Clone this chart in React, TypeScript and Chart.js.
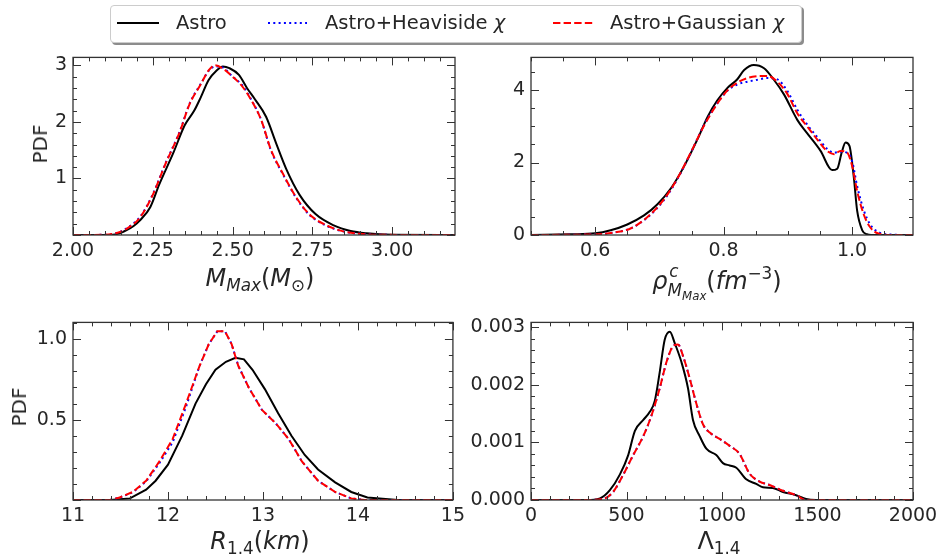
import React, { useEffect, useRef } from 'react';
import { Chart, registerables } from 'chart.js';

Chart.register(...registerables);

const FONT = "'DejaVu Sans', sans-serif";
const TEXT = '#262626';
const SPINE = '#333333';

// ---------- Panel 1: M_Max ----------
const M_X_TICKS = [2.0, 2.25, 2.5, 2.75, 3.0];
const M_X_LABELS = ['2.00', '2.25', '2.50', '2.75', '3.00'];
const M_Y_TICKS = [1, 2, 3];
const M_Y_LABELS = ['1', '2', '3'];
const M_ASTRO_X = [2.0, 2.1, 2.14, 2.168, 2.19, 2.21, 2.242, 2.27, 2.315, 2.35, 2.38, 2.40, 2.425, 2.45, 2.47, 2.49, 2.52, 2.545, 2.57, 2.605, 2.636, 2.668, 2.71, 2.76, 2.817, 2.87, 2.92, 3.0, 3.2];
const M_ASTRO_Y = [0, 0.002, 0.02, 0.086, 0.16, 0.26, 0.49, 0.89, 1.46, 1.94, 2.2, 2.43, 2.74, 2.91, 2.98, 2.95, 2.83, 2.6, 2.4, 2.09, 1.63, 1.17, 0.71, 0.37, 0.17, 0.07, 0.03, 0.005, 0];
const M_GAUSS_X = [2.0, 2.1, 2.14, 2.168, 2.21, 2.25, 2.29, 2.335, 2.365, 2.40, 2.425, 2.445, 2.47, 2.50, 2.53, 2.56, 2.59, 2.62, 2.66, 2.70, 2.74, 2.795, 2.85, 2.9, 2.97, 3.2];
const M_GAUSS_Y = [0, 0.004, 0.04, 0.11, 0.31, 0.71, 1.26, 1.83, 2.31, 2.66, 2.91, 3.0, 2.94, 2.8, 2.63, 2.37, 2.03, 1.51, 1.06, 0.66, 0.37, 0.17, 0.06, 0.02, 0.003, 0];
const M_HEAVI_X = M_GAUSS_X;
const M_HEAVI_Y = [0, 0.004, 0.04, 0.12, 0.32, 0.72, 1.27, 1.84, 2.32, 2.67, 2.9, 2.98, 2.96, 2.8, 2.65, 2.38, 2.03, 1.5, 1.05, 0.65, 0.36, 0.16, 0.06, 0.02, 0.003, 0];

// ---------- Panel 2: rho_c ----------
const RHO_X_TICKS = [0.6, 0.8, 1.0];
const RHO_X_LABELS = ['0.6', '0.8', '1.0'];
const RHO_Y_TICKS = [0, 2, 4];
const RHO_Y_LABELS = ['0', '2', '4'];
const RHO_ASTRO_X = [0.5, 0.562, 0.6, 0.624, 0.65, 0.676, 0.697, 0.718, 0.738, 0.759, 0.775, 0.79, 0.806, 0.821, 0.832, 0.847, 0.863, 0.878, 0.894, 0.915, 0.93, 0.951, 0.969, 0.977, 0.984, 0.99, 0.996, 1.003, 1.008, 1.016, 1.023, 1.03, 1.095];
const RHO_ASTRO_Y = [0, 0.02, 0.045, 0.13, 0.29, 0.54, 0.85, 1.29, 1.88, 2.63, 3.26, 3.71, 4.06, 4.29, 4.55, 4.69, 4.6, 4.29, 3.88, 3.17, 2.81, 2.32, 1.79, 1.83, 2.28, 2.55, 2.46, 1.56, 0.67, 0.13, 0.02, 0, 0];
const RHO_GAUSS_X = [0.5, 0.6, 0.63, 0.655, 0.681, 0.707, 0.728, 0.749, 0.769, 0.79, 0.806, 0.821, 0.837, 0.852, 0.868, 0.883, 0.899, 0.915, 0.93, 0.946, 0.961, 0.972, 0.982, 0.992, 1.0, 1.008, 1.018, 1.028, 1.041, 1.062, 1.095];
const RHO_GAUSS_Y = [0, 0.02, 0.07, 0.18, 0.49, 0.98, 1.56, 2.28, 3.0, 3.62, 3.99, 4.2, 4.33, 4.38, 4.39, 4.24, 3.9, 3.35, 3.0, 2.63, 2.32, 2.23, 2.32, 2.28, 1.92, 1.21, 0.58, 0.22, 0.04, 0, 0];
const RHO_HEAVI_X = RHO_GAUSS_X;
const RHO_HEAVI_Y = [0, 0.02, 0.07, 0.18, 0.48, 0.96, 1.54, 2.27, 3.02, 3.63, 3.98, 4.15, 4.23, 4.28, 4.33, 4.3, 3.98, 3.45, 3.05, 2.7, 2.38, 2.27, 2.3, 2.27, 2.05, 1.35, 0.7, 0.3, 0.08, 0.01, 0];

// ---------- Panel 3: R_1.4 ----------
const R_X_TICKS = [11, 12, 13, 14, 15];
const R_X_LABELS = ['11', '12', '13', '14', '15'];
const R_Y_TICKS = [0.5, 1.0];
const R_Y_LABELS = ['0.5', '1.0'];
const R_ASTRO_X = [11, 11.39, 11.6, 11.77, 11.87, 12.0, 12.15, 12.29, 12.4, 12.5, 12.61, 12.71, 12.8, 12.89, 13.02, 13.16, 13.3, 13.44, 13.58, 13.76, 13.93, 14.1, 14.42, 15];
const R_ASTRO_Y = [0, 0, 0.01, 0.064, 0.12, 0.22, 0.4, 0.6, 0.72, 0.81, 0.86, 0.885, 0.875, 0.81, 0.69, 0.54, 0.4, 0.28, 0.19, 0.11, 0.05, 0.016, 0, 0];
const R_GAUSS_X = [11, 11.39, 11.49, 11.63, 11.77, 11.91, 12.05, 12.19, 12.33, 12.43, 12.52, 12.6, 12.67, 12.74, 12.85, 12.99, 13.13, 13.27, 13.41, 13.58, 13.76, 13.93, 14.07, 15];
const R_GAUSS_Y = [0, 0, 0.016, 0.05, 0.12, 0.24, 0.38, 0.6, 0.83, 0.97, 1.05, 1.05, 0.97, 0.835, 0.7, 0.56, 0.48, 0.38, 0.24, 0.12, 0.05, 0.01, 0, 0];
const R_HEAVI_X = R_GAUSS_X;
const R_HEAVI_Y = [0, 0, 0.015, 0.048, 0.115, 0.23, 0.36, 0.58, 0.83, 0.97, 1.05, 1.05, 0.97, 0.835, 0.7, 0.56, 0.48, 0.38, 0.24, 0.12, 0.05, 0.01, 0, 0];

// ---------- Panel 4: Lambda_1.4 ----------
const L_X_TICKS = [0, 500, 1000, 1500, 2000];
const L_X_LABELS = ['0', '500', '1000', '1500', '2000'];
const L_Y_TICKS = [0, 0.001, 0.002, 0.003];
const L_Y_LABELS = ['0.000', '0.001', '0.002', '0.003'];
const L_ASTRO_X = [0, 291, 361, 413, 465, 509, 544, 588, 622, 648, 674, 700, 727, 753, 788, 822, 848, 883, 918, 970, 1005, 1040, 1075, 1127, 1179, 1214, 1266, 1319, 1388, 1440, 1493, 2000];
const L_ASTRO_Y = [0, 0, 0.000028, 0.00017, 0.00044, 0.00078, 0.0012, 0.00139, 0.00153, 0.00172, 0.00222, 0.00278, 0.00292, 0.00272, 0.00239, 0.00194, 0.00139, 0.00111, 0.00089, 0.00078, 0.00064, 0.0006, 0.00056, 0.00036, 0.00028, 0.00022, 0.00021, 0.00014, 0.000083, 0.000017, 0, 0];
const L_GAUSS_X = [0, 291, 378, 430, 483, 535, 588, 631, 674, 709, 744, 770, 796, 831, 866, 901, 936, 988, 1040, 1092, 1144, 1197, 1249, 1319, 1388, 1440, 2000];
const L_GAUSS_Y = [0, 0, 0.00002, 0.00014, 0.00044, 0.00078, 0.00111, 0.00147, 0.00194, 0.00239, 0.00267, 0.0027, 0.0025, 0.00211, 0.00167, 0.00131, 0.00117, 0.00106, 0.00094, 0.0008, 0.00046, 0.00032, 0.00026, 0.00016, 0.000083, 0, 0];
const L_HEAVI_X = L_GAUSS_X;
const L_HEAVI_Y = L_GAUSS_Y;

const zip = (xs: number[], ys: number[]) => xs.map((x, i) => ({ x, y: ys[i] }));

const framePlugin = {
  id: 'mplFrame',
  afterDatasetsDraw(chart: any, _args: any, opts: any) {
    const { ctx, chartArea: a } = chart;
    const xs = chart.scales.x;
    const ys = chart.scales.y;
    const seq = (min: number, max: number, step: number) => {
      const out: number[] = [];
      const n0 = Math.ceil(min / step - 1e-6);
      const n1 = Math.floor(max / step + 1e-6);
      for (let n = n0; n <= n1; n++) out.push(n * step);
      return out;
    };
    ctx.save();
    ctx.strokeStyle = SPINE;
    ctx.lineWidth = 1;
    ctx.beginPath();
    const xTick = (v: number, len: number) => {
      const p = Math.round(xs.getPixelForValue(v)) + 0.5;
      ctx.moveTo(p, a.bottom); ctx.lineTo(p, a.bottom - len);
      ctx.moveTo(p, a.top); ctx.lineTo(p, a.top + len);
    };
    const yTick = (v: number, len: number) => {
      const p = Math.round(ys.getPixelForValue(v)) + 0.5;
      ctx.moveTo(a.left, p); ctx.lineTo(a.left + len, p);
      ctx.moveTo(a.right, p); ctx.lineTo(a.right - len, p);
    };
    seq(xs.min, xs.max, opts.xMinor).forEach((v) => xTick(v, 4));
    seq(xs.min, xs.max, opts.xMajor).forEach((v) => xTick(v, 8));
    seq(ys.min, ys.max, opts.yMinor).forEach((v) => yTick(v, 4));
    seq(ys.min, ys.max, opts.yMajor).forEach((v) => yTick(v, 8));
    ctx.stroke();
    ctx.lineWidth = 1.3;
    ctx.strokeRect(a.left, a.top, a.right - a.left, a.bottom - a.top);
    ctx.restore();
  },
};

type PanelSpec = {
  left: number; top: number; w: number; h: number;
  padTop: number; padRight: number; yWidth: number; xHeight: number;
  xMin: number; xMax: number; yMin: number; yMax: number;
  xTicks: number[]; xLabels: string[]; yTicks: number[]; yLabels: string[];
  xMajor: number; xMinor: number; yMajor: number; yMinor: number;
  astro: { x: number; y: number }[];
  heavi: { x: number; y: number }[];
  gauss: { x: number; y: number }[];
  smooth: boolean;
};

const PANELS: PanelSpec[] = [
  {
    left: 0, top: 40, w: 470, h: 230, padTop: 11, padRight: 15, yWidth: 73, xHeight: 35,
    xMin: 2.0, xMax: 3.197, yMin: 0, yMax: 3.14,
    xTicks: M_X_TICKS, xLabels: M_X_LABELS, yTicks: M_Y_TICKS, yLabels: M_Y_LABELS,
    xMajor: 0.25, xMinor: 0.05, yMajor: 1, yMinor: 0.2,
    astro: zip(M_ASTRO_X, M_ASTRO_Y), heavi: zip(M_HEAVI_X, M_HEAVI_Y), gauss: zip(M_GAUSS_X, M_GAUSS_Y),
    smooth: true,
  },
  {
    left: 465, top: 40, w: 478, h: 230, padTop: 11, padRight: 30, yWidth: 66, xHeight: 35,
    xMin: 0.5, xMax: 1.095, yMin: 0, yMax: 4.9,
    xTicks: RHO_X_TICKS, xLabels: RHO_X_LABELS, yTicks: RHO_Y_TICKS, yLabels: RHO_Y_LABELS,
    xMajor: 0.2, xMinor: 0.05, yMajor: 2, yMinor: 0.5,
    astro: zip(RHO_ASTRO_X, RHO_ASTRO_Y), heavi: zip(RHO_HEAVI_X, RHO_HEAVI_Y), gauss: zip(RHO_GAUSS_X, RHO_GAUSS_Y),
    smooth: true,
  },
  {
    left: 0, top: 305, w: 470, h: 230, padTop: 10, padRight: 15, yWidth: 73, xHeight: 35,
    xMin: 11, xMax: 15, yMin: 0, yMax: 1.105,
    xTicks: R_X_TICKS, xLabels: R_X_LABELS, yTicks: R_Y_TICKS, yLabels: R_Y_LABELS,
    xMajor: 1, xMinor: 0.2, yMajor: 0.5, yMinor: 0.1,
    astro: zip(R_ASTRO_X, R_ASTRO_Y), heavi: zip(R_HEAVI_X, R_HEAVI_Y), gauss: zip(R_GAUSS_X, R_GAUSS_Y),
    smooth: false,
  },
  {
    left: 465, top: 305, w: 478, h: 230, padTop: 10, padRight: 30, yWidth: 66, xHeight: 35,
    xMin: 0, xMax: 2000, yMin: 0, yMax: 0.003083,
    xTicks: L_X_TICKS, xLabels: L_X_LABELS, yTicks: L_Y_TICKS, yLabels: L_Y_LABELS,
    xMajor: 500, xMinor: 100, yMajor: 0.001, yMinor: 0.0002,
    astro: zip(L_ASTRO_X, L_ASTRO_Y), heavi: zip(L_HEAVI_X, L_HEAVI_Y), gauss: zip(L_GAUSS_X, L_GAUSS_Y),
    smooth: true,
  },
];

function Panel({ p }: { p: PanelSpec }) {
  const ref = useRef<HTMLCanvasElement>(null);
  useEffect(() => {
    const interp = p.smooth ? { cubicInterpolationMode: 'monotone' as const } : { tension: 0 };
    const chart = new Chart(ref.current as HTMLCanvasElement, {
      type: 'line',
      data: {
        datasets: [
          { label: 'Astro', data: p.astro, borderColor: '#000000', borderWidth: 2, pointRadius: 0, order: 2, ...interp },
          { label: 'Astro+Heaviside χ', data: p.heavi, borderColor: '#0000ff', borderWidth: 2, borderDash: [2, 3.3], pointRadius: 0, order: 1, ...interp },
          { label: 'Astro+Gaussian χ', data: p.gauss, borderColor: '#ff0000', borderWidth: 2, borderDash: [7.4, 3.2], pointRadius: 0, order: 0, ...interp },
        ],
      },
      options: {
        animation: false,
        responsive: false,
        maintainAspectRatio: false,
        layout: { padding: { left: 0, top: p.padTop, right: p.padRight, bottom: 0 } },
        plugins: {
          legend: { display: false },
          tooltip: { enabled: false },
          // @ts-ignore
          mplFrame: { xMajor: p.xMajor, xMinor: p.xMinor, yMajor: p.yMajor, yMinor: p.yMinor },
        },
        scales: {
          x: {
            type: 'linear',
            min: p.xMin,
            max: p.xMax,
            afterBuildTicks: (s: any) => { s.ticks = p.xTicks.map((v) => ({ value: v })); },
            afterFit: (s: any) => { s.height = p.xHeight; },
            grid: { display: false, drawTicks: false },
            border: { display: false },
            ticks: {
              autoSkip: false, maxRotation: 0, minRotation: 0, padding: 5,
              color: TEXT, font: { family: FONT, size: 19 },
              callback: (_v: any, i: number) => p.xLabels[i],
            },
          },
          y: {
            type: 'linear',
            min: p.yMin,
            max: p.yMax,
            afterBuildTicks: (s: any) => { s.ticks = p.yTicks.map((v) => ({ value: v })); },
            afterFit: (s: any) => { s.width = p.yWidth; },
            grid: { display: false, drawTicks: false },
            border: { display: false },
            ticks: {
              autoSkip: false, padding: 6,
              color: TEXT, font: { family: FONT, size: 19 },
              callback: (_v: any, i: number) => p.yLabels[i],
            },
          },
        },
      } as any,
      plugins: [framePlugin],
    });
    return () => chart.destroy();
  }, [p]);
  return (
    <canvas
      ref={ref}
      width={p.w}
      height={p.h}
      style={{ position: 'absolute', left: p.left, top: p.top, width: p.w, height: p.h }}
    />
  );
}

const sub = (fs: number, dy: number): React.CSSProperties => ({ fontSize: fs + 'em', position: 'relative', top: dy + 'em' });

function Label({ cx, baseline, size, children }: { cx: number; baseline: number; size: number; children: React.ReactNode }) {
  return (
    <div
      style={{
        position: 'absolute', left: cx, top: baseline - 0.846 * size, fontSize: size, lineHeight: 1,
        transform: 'translateX(-50%)', whiteSpace: 'nowrap', color: TEXT, fontFamily: FONT,
      }}
    >
      {children}
    </div>
  );
}

function VLabel({ cx, cy, text }: { cx: number; cy: number; text: string }) {
  return (
    <div
      style={{
        position: 'absolute', left: cx, top: cy, fontSize: 20, lineHeight: 1, color: TEXT, fontFamily: FONT,
        transform: 'translate(-50%, -50%) rotate(-90deg)', whiteSpace: 'nowrap',
      }}
    >
      {text}
    </div>
  );
}

function LegendItem({ x1, x2, tx, dash, color, children }: any) {
  return (
    <>
      <svg style={{ position: 'absolute', left: x1, top: 18, overflow: 'visible' }} width={x2 - x1} height={10}>
        <line x1={0} y1={5} x2={x2 - x1} y2={5} stroke={color} strokeWidth={2} strokeDasharray={dash} />
      </svg>
      <div style={{ position: 'absolute', left: tx, top: 29.3 - 0.846 * 19.5, fontSize: 19.5, lineHeight: 1, whiteSpace: 'nowrap', color: TEXT }}>
        {children}
      </div>
    </>
  );
}

export default function App() {
  const it: React.CSSProperties = { fontStyle: 'italic' };
  return (
    <div style={{ position: 'absolute', left: 0, top: 0, width: 943, height: 558, background: '#fff', fontFamily: FONT, overflow: 'hidden' }}>
      {PANELS.map((p, i) => <Panel key={i} p={p} />)}

      {/* legend */}
      <div style={{ position: 'absolute', left: 110, top: 5, width: 690, height: 36, border: '1px solid #cccccc', borderRadius: 4, background: '#fff', boxShadow: '2px 2px 0 rgba(0,0,0,0.45)' }} />
      <LegendItem x1={117} x2={159} tx={176} color="#000000">Astro</LegendItem>
      <LegendItem x1={268} x2={307} tx={325} color="#0000ff" dash="2 3.3">Astro+Heaviside <span style={it}>χ</span></LegendItem>
      <LegendItem x1={553} x2={593} tx={610} color="#ff0000" dash="7.4 3.2">Astro+Gaussian <span style={it}>χ</span></LegendItem>

      {/* y labels */}
      <VLabel cx={40} cy={144} text="PDF" />
      <VLabel cx={19} cy={407} text="PDF" />

      {/* x labels */}
      <Label cx={260} baseline={286} size={24}>
        <span style={it}>M</span><span style={{ ...sub(0.7, 0.3), ...it }}>Max</span>(<span style={it}>M</span><span style={sub(0.7, 0.3)}>⊙</span>)
      </Label>
      <Label cx={717} baseline={289} size={24}>
        <span style={it}>ρ</span>
        <span style={{ position: 'relative', fontSize: '0.7em', ...it }}>
          <span style={{ position: 'absolute', left: '0.1em', top: '-0.55em' }}>c</span>
          <span style={{ position: 'relative', top: '0.45em' }}>M<span style={sub(0.7, 0.3)}>Max</span></span>
        </span>
        (<span style={it}>fm</span><span style={sub(0.7, -0.6)}>−3</span>)
      </Label>
      <Label cx={260} baseline={549} size={24}>
        <span style={it}>R</span><span style={sub(0.7, 0.3)}>1.4</span>(<span style={it}>km</span>)
      </Label>
      <Label cx={719} baseline={549} size={24}>
        Λ<span style={sub(0.7, 0.3)}>1.4</span>
      </Label>
    </div>
  );
}
